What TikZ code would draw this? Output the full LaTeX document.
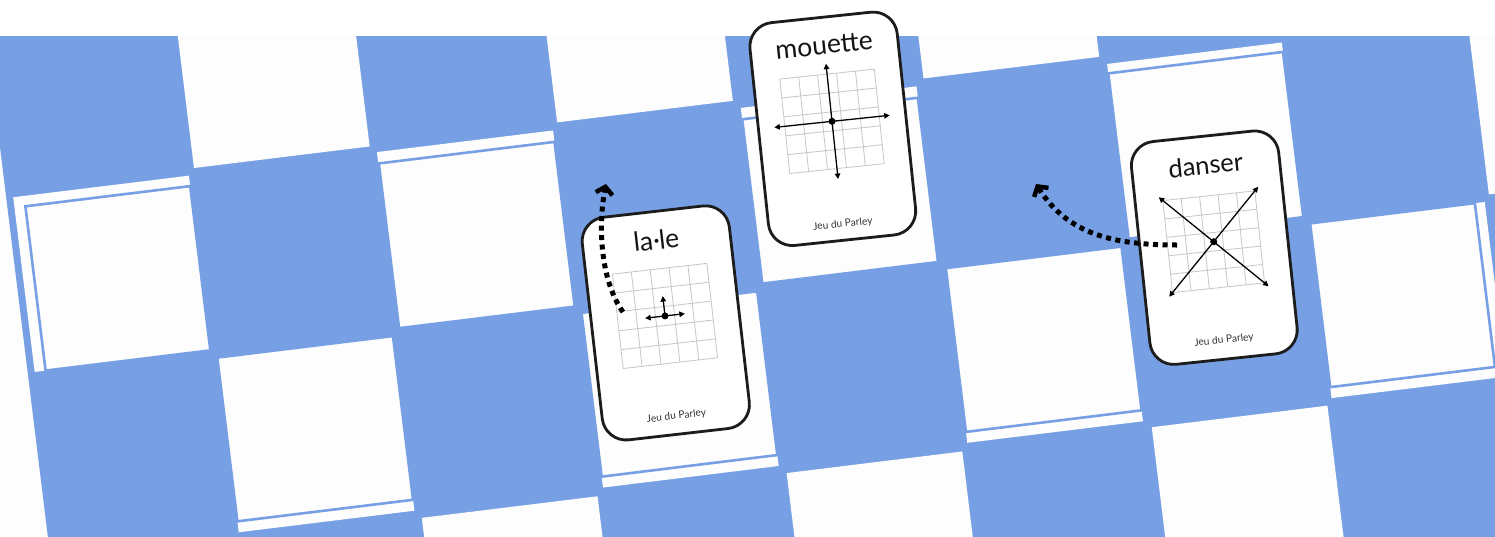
\documentclass[tikz,border=0pt]{standalone}
\usepackage{fontspec}
\setmainfont{Lato}
\usetikzlibrary{arrows.meta}
\definecolor{boardblue}{RGB}{118,160,227}
\definecolor{tilewhite}{RGB}{253,253,253}
\definecolor{gridgray}{RGB}{198,198,198}
\definecolor{inkgray}{RGB}{50,50,50}
\definecolor{cardline}{RGB}{28,28,28}
\begin{document}
\begin{tikzpicture}[x=1pt,y=-1pt,
  boardtile/.style={fill=tilewhite},
  fronttile/.style={fill=tilewhite,draw=boardblue,line width=2.6pt},
  cardbox/.style={draw=cardline,fill=white,line width=2.8pt,rounded corners=24pt,
    minimum width=148pt,minimum height=224pt,inner sep=0pt},
  cardtitle/.style={font=\fontsize{26.5}{30}\selectfont,text=black!92,anchor=base,inner sep=0pt},
  brand/.style={font=\fontsize{10.2}{12}\selectfont,text=inkgray,inner sep=0pt},
  gridline/.style={draw=gridgray,line width=0.8pt},
  dotnode/.style={circle,fill=black,inner sep=0pt,minimum size=7pt},
  dirarrow/.style={line width=1.3pt,-{Triangle[length=5.5pt,width=5.5pt]}},
  bidirarrow/.style={line width=1.3pt,{Triangle[length=5.5pt,width=5.5pt]}-{Triangle[length=5.5pt,width=5.5pt]}},
  dotpath/.style={line width=5pt,dash pattern=on 5pt off 4.5pt,
    -{Straight Barb[length=7pt,width=17pt,line width=4.5pt]}}
]
\useasboundingbox (0,0) rectangle (1495,536);
% background
\fill[tilewhite] (0,0) rectangle (1495,536);
\fill[white] (0,0) rectangle (1495,36);

% board
\begin{scope}
\clip (0,36) rectangle (1495,536);
\begin{scope}[shift={(194,168)},rotate=7]
  \fill[boardblue] (-190,-400) rectangle (1800,800);
  % row -1
  \fill[boardtile] (0,-177) rectangle (177,0);
  \fill[boardtile] (366,-178) rectangle (543,-1);
  \fill[boardtile] (735,-177) rectangle (912,0);
  \fill[boardtile] (1101,-177) rectangle (1278,0);
  % row 0 (back tiles + front tiles)
  \fill[boardtile] (-183,7) rectangle (-6,183);
  \filldraw[fronttile] (-172,17.5) rectangle (-6,183);
  \fill[boardtile] (183.5,6.5) rectangle (361,184);
  \filldraw[fronttile] (184,18) rectangle (361,184);
  \fill[boardtile] (550,7) rectangle (727,184);
  \filldraw[fronttile] (550,18.5) rectangle (727,184);
  \fill[boardtile] (919,8) rectangle (1095,184);
  \filldraw[fronttile] (919,17.5) rectangle (1095,184);
  \fill[boardtile] (1282,7) rectangle (1459,184);
  % row 1
  \fill[boardtile] (0,191) rectangle (177,367);
  \filldraw[fronttile] (0,191) rectangle (177,356);
  \fill[boardtile] (367,191) rectangle (544,367);
  \filldraw[fronttile] (367,191) rectangle (544,356);
  \fill[boardtile] (734,191) rectangle (911,367);
  \filldraw[fronttile] (734,191) rectangle (911,356);
  \fill[boardtile] (1101,191) rectangle (1277,367);
  \filldraw[fronttile] (1101,191) rectangle (1267,356);
  % row 2
  \fill[boardtile] (183.5,375) rectangle (360.5,552);
  \fill[boardtile] (551,375) rectangle (728,552);
  \fill[boardtile] (919,374) rectangle (1096,551);
\end{scope}
\end{scope}

% ---------- card la.le ----------
\node[cardbox,rotate=6.5] (lalecard) at (665.8,322.9) {};
\begin{scope}[shift={(665.8,322.9)},rotate=6.5]
  \foreach \k in {0,...,5} {
    \draw[gridline] ({-47.5+19*\k},-54.5) -- ({-47.5+19*\k},40.5);
    \draw[gridline] (-47.5,{-54.5+19*\k}) -- (47.5,{-54.5+19*\k});
  }
  \node[dotnode] (laledot) at (0,-7) {};
  \coordinate (laleup) at (0,-27);
  \coordinate (laleleft) at (-20,-7);
  \coordinate (laleright) at (20,-7);
  \draw[dirarrow] (laledot.center) -- (laleup);
  \draw[dirarrow] (laledot.center) -- (laleleft);
  \draw[dirarrow] (laledot.center) -- (laleright);
  \node[cardtitle,rotate=6.5] (laletitle) at (0,-74) {la·le};
  \node[brand,rotate=6.5] (lalebrand) at (0,94) {Jeu du Parley};
\end{scope}

% ---------- card mouette ----------
\node[cardbox,rotate=6] (mouettecard) at (832.8,128.8) {};
\begin{scope}[shift={(832.8,128.8)},rotate=6]
  \foreach \k in {0,...,5} {
    \draw[gridline] ({-47.5+19*\k},-55) -- ({-47.5+19*\k},40);
    \draw[gridline] (-47.5,{-55+19*\k}) -- (47.5,{-55+19*\k});
  }
  \node[dotnode] (mouettedot) at (0,-7.5) {};
  \coordinate (mouetteup) at (0,-65.5);
  \coordinate (mouettedown) at (0,50.5);
  \coordinate (mouetteleft) at (-58,-7.5);
  \coordinate (mouetteright) at (58,-7.5);
  \draw[dirarrow] (mouettedot.center) -- (mouetteup);
  \draw[dirarrow] (mouettedot.center) -- (mouettedown);
  \draw[dirarrow] (mouettedot.center) -- (mouetteleft);
  \draw[dirarrow] (mouettedot.center) -- (mouetteright);
  \node[cardtitle,rotate=6] (mouettetitle) at (0,-75) {mouette};
  \node[brand,rotate=6] (mouettebrand) at (0,96) {Jeu du Parley};
\end{scope}

% ---------- card danser ----------
\node[cardbox,rotate=6] (dansercard) at (1214.3,247.7) {};
\begin{scope}[shift={(1214.3,247.7)},rotate=6]
  \foreach \k in {0,...,5} {
    \draw[gridline] ({-46.25+18.5*\k},-52.25) -- ({-46.25+18.5*\k},40.25);
    \draw[gridline] (-46.25,{-52.25+18.5*\k}) -- (46.25,{-52.25+18.5*\k});
  }
  \node[dotnode] (danserdot) at (0,-6) {};
  \coordinate (danserTL) at (-50,-56);
  \coordinate (danserTR) at (50,-56);
  \coordinate (danserBL) at (-50,44);
  \coordinate (danserBR) at (50,44);
  \draw[bidirarrow] (danserTL) -- (danserBR);
  \draw[bidirarrow] (danserBL) -- (danserTR);
  \node[cardtitle,font=\fontsize{25.5}{30}\selectfont,rotate=6] (dansertitle) at (0,-74) {danser};
  \node[brand,rotate=6] (danserbrand) at (0,93) {Jeu du Parley};
\end{scope}

% ---------- dotted movement arrows ----------
\coordinate (movefromlale) at (623,312);
\coordinate (movetolale) at (606,184);
\draw[dotpath] (movefromlale) .. controls (600,280) and (598,225) .. (movetolale);
\coordinate (movefromdanser) at (1177,245);
\coordinate (movetodanser) at (1036,184);
\draw[dotpath] (movefromdanser) .. controls (1115,245) and (1068,235) .. (movetodanser);
\end{tikzpicture}
\end{document}
